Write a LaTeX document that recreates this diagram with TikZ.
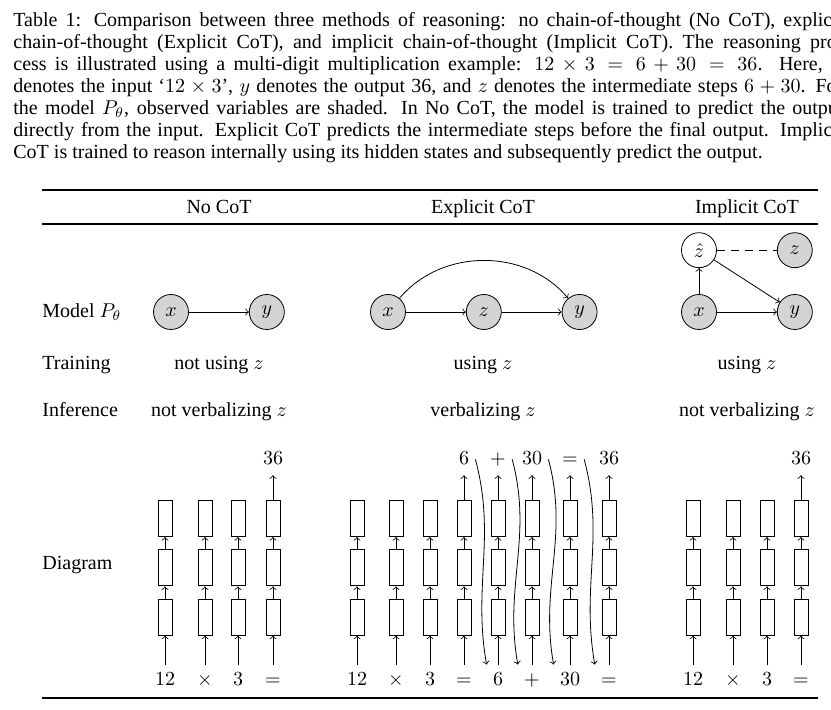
\documentclass[tikz,border=0pt]{standalone}
\usepackage[no-math]{fontspec}
\setmainfont{Liberation Serif}
\usepackage{amsmath}
\usetikzlibrary{positioning}
\tikzset{
    var/.style={
        circle,
        draw=black,
        fill=black!17,
        minimum size=17.5pt,
        inner sep=0pt
    },
    latent/.style={
        var,
        fill=white
    },
    hstate/.style={
        rectangle,
        draw=black,
        fill=white,
        minimum width=7pt,
        minimum height=18pt,
        inner sep=0pt
    },
    tok/.style={
        inner xsep=3pt,
        inner ysep=4pt,
        text height=6.5pt,
        text depth=1pt
    },
    wire/.style={
        draw=black,
        ->
    },
    rowlabel/.style={
        anchor=base west,
        inner sep=0pt
    },
    cell/.style={
        anchor=base,
        inner sep=0pt
    },
    tabrule/.style={
        draw=black,
        line width=0.9pt
    }
}
% one token: input, three hidden states, arrows
\newcommand{\tokcol}[3]{%
    \node[tok, anchor=base] (#1in) at (#2,686) {#3};
    \node[hstate, above=14.5pt of #1in] (#1s1) {};
    \node[hstate, above=6.25pt of #1s1] (#1s2) {};
    \node[hstate, above=6.25pt of #1s2] (#1s3) {};
    \draw[wire] (#1in) -- (#1s1);
    \draw[wire] (#1s1) -- (#1s2);
    \draw[wire] (#1s2) -- (#1s3);
}

\begin{document}
\begin{tikzpicture}[x=0.5pt, y=-0.5pt]
\useasboundingbox (0,0) rectangle (831,710);

% Caption
\node[anchor=north west, inner sep=0pt, text width=415pt, align=justify,
      font=\fontsize{10pt}{11pt}\selectfont] (caption) at (13,12) {Table 1: Comparison between three methods of reasoning: no chain-of-thought (No CoT), explicit\linebreak
chain-of-thought (Explicit CoT), and implicit chain-of-thought (Implicit CoT). The reasoning pro-\linebreak
cess is illustrated using a multi-digit multiplication example: $12 \times 3 = 6 + 30 = 36$. Here, $x$\linebreak
denotes the input `$12 \times 3$', $y$ denotes the output 36, and $z$ denotes the intermediate steps $6+30$. For\linebreak
the model $P_\theta$, observed variables are shaded. In No CoT, the model is trained to predict the output\linebreak
directly from the input. Explicit CoT predicts the intermediate steps before the final output. Implicit\linebreak
CoT is trained to reason internally using its hidden states and subsequently predict the output.};

% Rules
\draw[tabrule] (42,190) -- (818,190);
\draw[tabrule, line width=0.7pt] (42,224) -- (818,224);
\draw[tabrule] (42,698) -- (818,698);

% Header
\node[cell] (hno) at (219,214) {No CoT};
\node[cell] (hex) at (483,214) {Explicit CoT};
\node[cell] (him) at (747,214) {Implicit CoT};

% Row labels
\node[rowlabel] (model) at (42,318) {Model $P_\theta$};
\node[rowlabel] (train) at (42,370) {Training};
\node[rowlabel] (infer) at (42,417) {Inference};
\node[rowlabel] (diag) at (42,570) {Diagram};

% Model: No CoT
\node[var] (nx) at (171,312) {$x$};
\node[var, right=30pt of nx] (ny) {$y$};
\draw[wire] (nx) -- (ny);

% Model: Explicit CoT
\node[var] (ex) at (388,312) {$x$};
\node[var, right=30pt of ex] (ez) {$z$};
\node[var, right=30pt of ez] (ey) {$y$};
\draw[wire] (ex) -- (ez);
\draw[wire] (ez) -- (ey);
\draw[wire] (ex) to[bend left=50] (ey);

% Model: Implicit CoT
\node[var] (ix) at (699,312) {$x$};
\node[var, right=30pt of ix] (iy) {$y$};
\node[latent, above=13pt of ix] (izh) {$\hat{z}$};
\node[var, right=30pt of izh] (iz) {$z$};
\draw[wire] (ix) -- (izh);
\draw[wire] (izh) -- (iy);
\draw[wire] (ix) -- (iy);
\draw[dash pattern=on 4pt off 3pt] (izh) -- (iz);

% Training / Inference
\node[cell] (tno) at (219,370) {not using $z$};
\node[cell] (tex) at (483,370) {using $z$};
\node[cell] (tim) at (747,370) {using $z$};
\node[cell] (ino) at (219,417) {not verbalizing $z$};
\node[cell] (iex) at (483,417) {verbalizing $z$};
\node[cell] (iim) at (747,417) {not verbalizing $z$};

% Diagram: No CoT
\tokcol{na}{165}{$12$}
\tokcol{nb}{205}{$\times$}
\tokcol{nc}{238}{$3$}
\tokcol{nd}{273}{$=$}
\node[tok, above=12.5pt of nds3] (ndout) {$36$};
\draw[wire] (nds3) -- (ndout);

% Diagram: Explicit CoT
\tokcol{ea}{357}{$12$}
\tokcol{eb}{396}{$\times$}
\tokcol{ec}{430}{$3$}
\tokcol{ed}{464}{$=$}
\tokcol{ee}{498}{$6$}
\tokcol{ef}{532}{$+$}
\tokcol{eg}{570}{$30$}
\tokcol{eh}{609}{$=$}
\node[tok, above=12.5pt of eds3] (edout) {$6$};
\node[tok, above=12.5pt of ees3] (eeout) {$+$};
\node[tok, above=12.5pt of efs3] (efout) {$30$};
\node[tok, above=12.5pt of egs3] (egout) {$=$};
\node[tok, above=12.5pt of ehs3] (ehout) {$36$};
\draw[wire] (eds3) -- (edout);
\draw[wire] (ees3) -- (eeout);
\draw[wire] (efs3) -- (efout);
\draw[wire] (egs3) -- (egout);
\draw[wire] (ehs3) -- (ehout);
% feed outputs back in
\draw[wire] (edout.east) to[out=-75, in=100] (eein.north west);
\draw[wire] (eeout.east) to[out=-75, in=100] (efin.north west);
\draw[wire] (efout.east) to[out=-75, in=100] (egin.north west);
\draw[wire] (egout.east) to[out=-75, in=100] (ehin.north west);

% Diagram: Implicit CoT
\tokcol{ia}{693}{$12$}
\tokcol{ib}{733}{$\times$}
\tokcol{ic}{767}{$3$}
\tokcol{id}{801}{$=$}
\node[tok, above=12.5pt of ids3] (idout) {$36$};
\draw[wire] (ids3) -- (idout);

\end{tikzpicture}
\end{document}
